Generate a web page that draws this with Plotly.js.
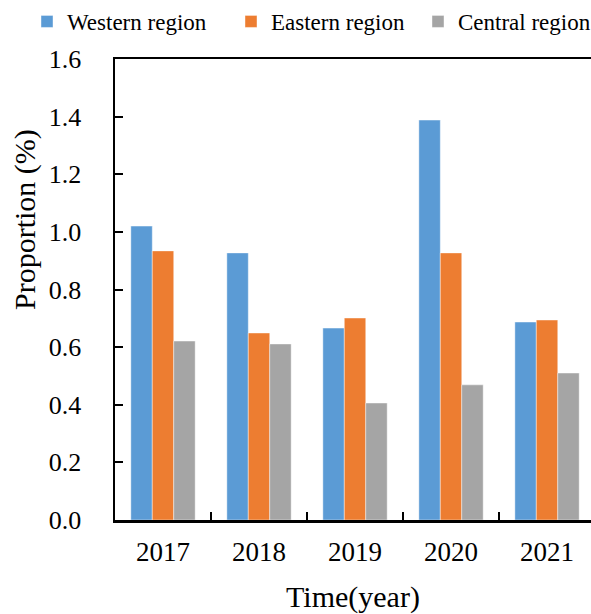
<!DOCTYPE html>
<html>
<head>
<meta charset="utf-8">
<script src="https://cdn.plot.ly/plotly-3.0.1.min.js"></script>
<style>html,body{margin:0;padding:0;background:#fff;}#chart{width:591px;height:614px;}</style>
</head>
<body>
<div id="chart"></div>
<script>
const years = ["2017", "2018", "2019", "2020", "2021"];
const western = [1.02, 0.927, 0.666, 1.388, 0.687];
const eastern = [0.934, 0.649, 0.701, 0.927, 0.694];
const central = [0.621, 0.611, 0.406, 0.469, 0.510];
const seriesNames = ["Western region", "Eastern region", "Central region"];
const colors = ["#5B9BD5", "#ED7D31", "#A5A5A5"];
const yTicks = [0, 0.2, 0.4, 0.6, 0.8, 1.0, 1.2, 1.4, 1.6];
const yTickText = ["0.0", "0.2", "0.4", "0.6", "0.8", "1.0", "1.2", "1.4", "1.6"];
const xTitle = "Time(year)";
const yTitle = "Proportion (%)";

const font = "Liberation Serif";
const legendIds = ["legend", "legend2", "legend3"];
const legendX = [27, 231, 418];

const traces = [western, eastern, central].map((vals, i) => ({
  type: "bar",
  x: years,
  y: vals,
  name: seriesNames[i],
  legend: legendIds[i],
  marker: {color: colors[i], line: {color: "rgba(255,255,255,0.7)", width: 0.6}},
  hoverinfo: "skip"
}));

const layout = {
  width: 591, height: 614,
  margin: {l: 115, r: 0, t: 59, b: 94, autoexpand: false},
  paper_bgcolor: "#fff", plot_bgcolor: "#fff",
  barmode: "group", bargap: 0.33, bargroupgap: 0,
  font: {family: font, color: "#000"},
  showlegend: true,
  xaxis: {
    type: "category",
    range: [-0.5, 4.458],
    showline: true, linecolor: "#000", linewidth: 2.5,
    mirror: true,
    ticks: "inside", tickson: "boundaries", ticklen: 8, tickwidth: 2, tickcolor: "#000",
    tickfont: {family: font, size: 27, color: "#000"},
    ticklabelstandoff: 6,
    showgrid: false, zeroline: false,
    title: {text: xTitle, font: {family: font, size: 30, color: "#000"}, standoff: 26}
  },
  yaxis: {
    range: [0, 1.6],
    tickvals: yTicks, ticktext: yTickText,
    showline: true, linecolor: "#000", linewidth: 2.5,
    ticks: "inside", ticklen: 8, tickwidth: 2, tickcolor: "#000",
    tickfont: {family: font, size: 26, color: "#000"},
    showgrid: false, zeroline: false,
    ticklabelstandoff: 26
  },
  annotations: [{
    text: yTitle, textangle: -90,
    xref: "paper", yref: "paper",
    x: 0, y: 1 - (220 - 59) / (520 - 59),
    xanchor: "center", yanchor: "middle",
    xshift: -90,
    showarrow: false,
    font: {family: font, size: 30, color: "#000"}
  }]
};

legendIds.forEach((id, i) => {
  layout[id] = {
    orientation: "h", xref: "container", yref: "container",
    x: legendX[i] / 591, y: 1.0, xanchor: "left", yanchor: "top",
    font: {family: font, size: 23, color: "#000"},
    itemclick: false, itemdoubleclick: false,
    bgcolor: "rgba(0,0,0,0)"
  };
});

Plotly.newPlot("chart", traces, layout, {staticPlot: true, displayModeBar: false});
</script>
</body>
</html>
